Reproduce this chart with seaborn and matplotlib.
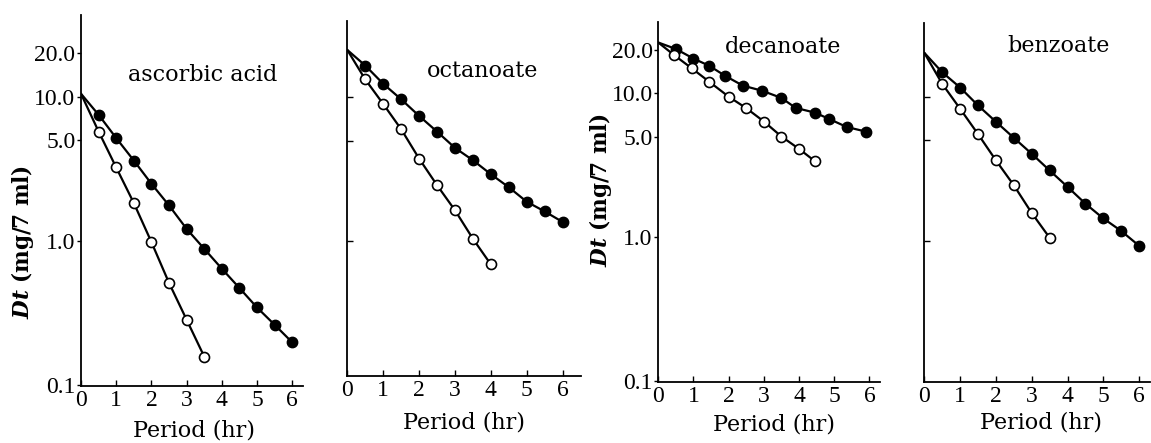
import matplotlib
matplotlib.use("Agg")
import matplotlib.pyplot as plt
import numpy as np
import pandas as pd
import seaborn as sns

# ---------------- data ----------------
panel_titles = ["ascorbic acid", "octanoate", "decanoate", "benzoate"]

ascorbic_x_filled = [0, 0.5, 1.0, 1.5, 2.0, 2.5, 3.0, 3.5, 4.0, 4.5, 5.0, 5.5, 6.0]
ascorbic_filled = [10.5, 7.5, 5.17, 3.61, 2.49, 1.76, 1.21, 0.88, 0.64, 0.47, 0.344, 0.261, 0.197]
ascorbic_x_open = [0, 0.5, 1.0, 1.5, 2.0, 2.5, 3.0, 3.5]
ascorbic_open = [10.5, 5.74, 3.23, 1.83, 0.98, 0.51, 0.283, 0.157]

octanoate_x_filled = [0, 0.5, 1.0, 1.5, 2.0, 2.5, 3.0, 3.5, 4.0, 4.5, 5.0, 5.5, 6.0]
octanoate_filled = [21.3, 16.6, 12.4, 9.68, 7.42, 5.77, 4.45, 3.65, 2.92, 2.37, 1.88, 1.61, 1.36]
octanoate_x_open = [0, 0.5, 1.0, 1.5, 2.0, 2.5, 3.0, 3.5, 4.0]
octanoate_open = [21.3, 13.3, 8.98, 6.0, 3.75, 2.45, 1.64, 1.04, 0.69]

decanoate_x_filled = [0, 0.5, 1.0, 1.45, 1.9, 2.4, 2.95, 3.5, 3.9, 4.45, 4.85, 5.35, 5.9]
decanoate_filled = [22.5, 20.3, 17.4, 15.5, 13.2, 11.3, 10.4, 9.27, 7.91, 7.33, 6.63, 5.83, 5.41]
decanoate_x_open = [0, 0.45, 0.95, 1.45, 2.0, 2.5, 3.0, 3.5, 4.0, 4.45]
decanoate_open = [22.5, 18.4, 14.9, 12.0, 9.46, 7.87, 6.36, 5.0, 4.10, 3.37]

benzoate_x_filled = [0, 0.5, 1.0, 1.5, 2.0, 2.5, 3.0, 3.5, 4.0, 4.5, 5.0, 5.5, 6.0]
benzoate_filled = [20.2, 14.8, 11.6, 8.71, 6.71, 5.19, 4.02, 3.08, 2.37, 1.81, 1.43, 1.17, 0.923]
benzoate_x_open = [0, 0.5, 1.0, 1.5, 2.0, 2.5, 3.0, 3.5]
benzoate_open = [20.2, 12.3, 8.26, 5.51, 3.62, 2.43, 1.56, 1.05]

x_ticks = [0, 1, 2, 3, 4, 5, 6]
x_tick_labels = ["0", "1", "2", "3", "4", "5", "6"]
y_ticks_labeled = [0.1, 1.0, 5.0, 10.0, 20.0]
y_tick_labels = ["0.1", "1.0", "5.0", "10.0", "20.0"]
y_ticks_unlabeled = [1.0, 5.0, 10.0]

x_label = "Period (hr)"
y_label = r"$Dt$ (mg/7 ml)"

series = [
    (ascorbic_x_filled, ascorbic_filled, ascorbic_x_open, ascorbic_open),
    (octanoate_x_filled, octanoate_filled, octanoate_x_open, octanoate_open),
    (decanoate_x_filled, decanoate_filled, decanoate_x_open, decanoate_open),
    (benzoate_x_filled, benzoate_filled, benzoate_x_open, benzoate_open),
]

# ---------------- style ----------------
sns.set_theme(style="white")
plt.rcParams["font.family"] = ["DejaVu Serif"]
plt.rcParams["mathtext.fontset"] = "custom"
plt.rcParams["mathtext.it"] = "DejaVu Serif:italic:bold"
plt.rcParams["mathtext.rm"] = "DejaVu Serif:bold"
for k in ["text.color", "axes.labelcolor", "xtick.color", "ytick.color"]:
    plt.rcParams[k] = "black"

W, H = 1151, 443
fig = plt.figure(figsize=(W / 100, H / 100), dpi=100)

# layout in pixels: left, xmax, px-per-hr, top, bottom, ylim
layouts = [
    dict(left=81.0, xmax=6.3, pxh=35.2, top=15.0, bottom=386.0, ylim=(0.098, 37.0),
         labeled=True, ylab=(23, 242), xlab=(194, 430), title=(203, 75)),
    dict(left=347.3, xmax=6.5, pxh=35.9, top=20.7, bottom=376.0, ylim=(0.116, 34.0),
         labeled=False, ylab=None, xlab=(464, 422), title=(483, 71)),
    dict(left=658.3, xmax=6.3, pxh=35.2, top=21.7, bottom=381.7, ylim=(0.099, 31.4),
         labeled=True, ylab=(600, 190), xlab=(774, 425), title=(783, 47)),
    dict(left=924.3, xmax=6.3, pxh=35.8, top=22.7, bottom=381.7, ylim=(0.105, 32.7),
         labeled=False, ylab=None, xlab=(1041, 422), title=(1058, 46)),
]

tick_font = dict(family="Liberation Serif", size=17, color="black")

for title, (xf, yf, xo, yo), L in zip(panel_titles, series, layouts):
    right = L["left"] + L["xmax"] * L["pxh"]
    w = right - L["left"]
    h = L["bottom"] - L["top"]
    ax = fig.add_axes([L["left"] / W, 1 - L["bottom"] / H, w / W, h / H])
    ax.set_facecolor("none")

    df_f = pd.DataFrame({"x": xf, "y": yf})
    df_o = pd.DataFrame({"x": xo, "y": yo})

    sns.lineplot(data=df_f, x="x", y="y", ax=ax, color="black", lw=1.6, sort=False)
    sns.lineplot(data=df_o, x="x", y="y", ax=ax, color="black", lw=1.6, sort=False)
    sns.scatterplot(data=df_f.iloc[1:], x="x", y="y", ax=ax, color="black",
                    edgecolor="black", s=56, linewidth=1.0, zorder=3)
    sns.scatterplot(data=df_o.iloc[1:], x="x", y="y", ax=ax, color="white",
                    edgecolor="black", s=52, linewidth=1.2, zorder=3)

    ax.set_yscale("log")
    ax.set_xlim(0, L["xmax"])
    ax.set_ylim(*L["ylim"])
    ax.minorticks_off()

    for s in ["top", "right"]:
        ax.spines[s].set_visible(False)
    for s in ["left", "bottom"]:
        ax.spines[s].set_color("black")
        ax.spines[s].set_linewidth(1.3)

    ax.set_xticks(x_ticks)
    ax.set_xticklabels(x_tick_labels, fontdict=tick_font)
    ax.tick_params(axis="x", bottom=True, direction="in", length=4, width=1,
                   color="black", pad=3)

    if L["labeled"]:
        ax.set_yticks(y_ticks_labeled)
        ax.set_yticklabels(y_tick_labels, fontdict=tick_font)
        ax.tick_params(axis="y", left=True, direction="out", length=3, width=1,
                       color="black", pad=1)
        ax.set_ylabel(y_label, fontsize=15.5, fontweight="bold", color="black")
        ax.yaxis.label.set_va("center")
        ax.yaxis.label.set_ha("center")
        lx, ly = L["ylab"]
        ax.yaxis.set_label_coords((lx - L["left"]) / w, (L["bottom"] - ly) / h)
    else:
        ax.set_yticks(y_ticks_unlabeled)
        ax.set_yticklabels([])
        ax.tick_params(axis="y", left=True, direction="in", length=4, width=1,
                       color="black")
        ax.set_ylabel("")

    ax.set_xlabel(x_label, fontsize=16, color="black")
    ax.xaxis.label.set_va("center")
    xx, xy = L["xlab"]
    ax.xaxis.set_label_coords((xx - L["left"]) / w, (L["bottom"] - xy) / h)

    tx, ty = L["title"]
    ax.text((tx - L["left"]) / w, (L["bottom"] - ty) / h, title,
            transform=ax.transAxes, ha="center", va="center", fontsize=16, color="black")

fig.savefig("out.png", dpi=100, facecolor="white")
